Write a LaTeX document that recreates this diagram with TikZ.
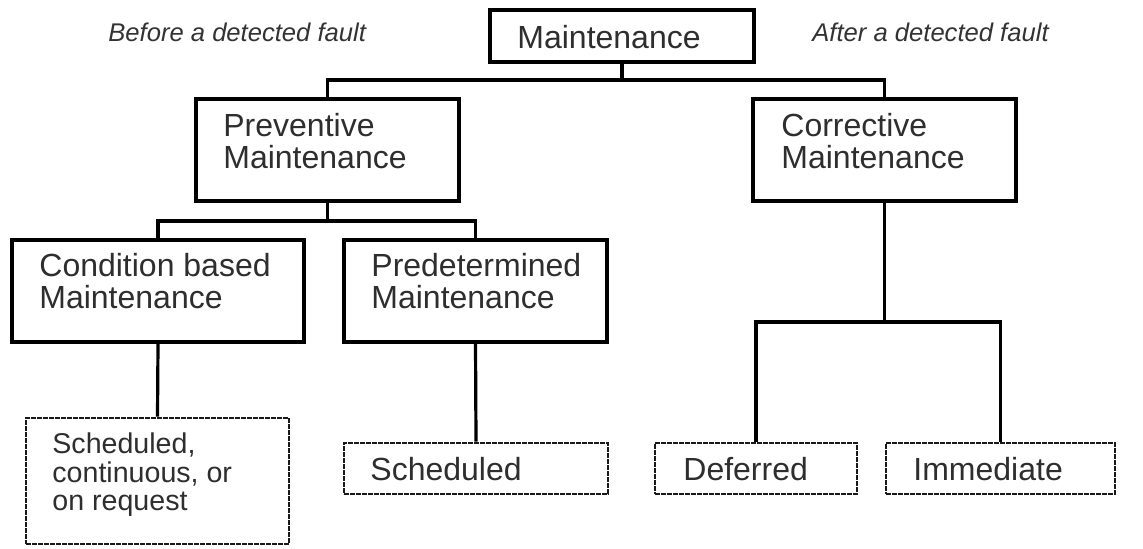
\documentclass[tikz,border=0pt]{standalone}
\usepackage{fontspec}
\setmainfont{Liberation Sans}
\begin{document}
\begin{tikzpicture}[x=0.5pt,y=-0.5pt,
  box/.style={draw=black, line width=1.7pt, rectangle, inner sep=0pt, fill=white},
  dbox/.style={draw=black!90, line width=1.4pt, rectangle, inner sep=0pt, fill=white,
               dash pattern=on 2.5pt off 0.5pt},
  link/.style={draw=black, line width=1.6pt},
  lbl/.style={anchor=base west, inner sep=0pt, text=black!82,
              font=\fontsize{16}{16}\selectfont},
  slbl/.style={lbl, font=\fontsize{14.3}{14}\selectfont},
  note/.style={anchor=base west, inner sep=0pt, text=black!80,
               font=\fontsize{12.8}{13}\selectfont\itshape}]
\useasboundingbox (0,0) rectangle (1143,548);

% boxes
\node[box, minimum width=132pt,   minimum height=26pt]   (main)   at (622,36)      {};
\node[box, minimum width=131.5pt, minimum height=51pt]   (prev)   at (327.5,150)   {};
\node[box, minimum width=131.5pt, minimum height=51pt]   (corr)   at (884.5,150)   {};
\node[box, minimum width=146pt,   minimum height=51pt]   (cond)   at (158,291)     {};
\node[box, minimum width=131.5pt, minimum height=51pt]   (pred)   at (475.5,291)   {};
\node[dbox, minimum width=131.5pt, minimum height=63pt]  (schedc) at (157.5,481)   {};
\node[dbox, minimum width=132pt,   minimum height=25.5pt] (sched) at (476,468.5)   {};
\node[dbox, minimum width=101pt,   minimum height=25.5pt] (defer) at (756,468.5)   {};
\node[dbox, minimum width=114.5pt, minimum height=25.5pt] (immed) at (1000.5,468.5) {};

% box texts
\node[lbl] (tmain) at (517,48) {Maintenance};
\node[lbl] (tprev) at (223,136) {\begin{tabular}[t]{@{}l@{}}Preventive\\Maintenance\end{tabular}};
\node[lbl] (tcorr) at (781,136) {\begin{tabular}[t]{@{}l@{}}Corrective\\Maintenance\end{tabular}};
\node[lbl] (tcond) at (39,276)  {\begin{tabular}[t]{@{}l@{}}Condition based\\Maintenance\end{tabular}};
\node[lbl] (tpred) at (371,276) {\begin{tabular}[t]{@{}l@{}}Predetermined\\Maintenance\end{tabular}};
\node[slbl] (tschedc) at (52,453) {\begin{tabular}[t]{@{}l@{}}Scheduled,\\continuous, or\\on request\end{tabular}};
\node[lbl] (tsched) at (370,480) {Scheduled};
\node[lbl] (tdefer) at (683,480) {Deferred};
\node[lbl] (timmed) at (913,480) {Immediate};

% side notes
\node[note] (before) at (108,41) {Before a detected fault};
\node[note] (after)  at (812,41) {After a detected fault};

% junction points of the tree
\coordinate (j1) at (622,80);
\coordinate (j2) at (327.5,221);
\coordinate (j3) at (884.5,322);

% connectors
\draw[link] (main.south) -- (j1);
\draw[link] (j1) -| (prev.north);
\draw[link] (j1) -| (corr.north);
\draw[link] (prev.south) -- (j2);
\draw[link] (j2) -| (cond.north);
\draw[link] (j2) -| (pred.north);
\draw[link] (cond.south) -- (schedc.north);
\draw[link] (pred.south) -- (sched.north);
\draw[link] (corr.south) -- (j3);
\draw[link] (j3) -| (defer.north);
\draw[link] (j3) -| (immed.north);
\end{tikzpicture}
\end{document}
